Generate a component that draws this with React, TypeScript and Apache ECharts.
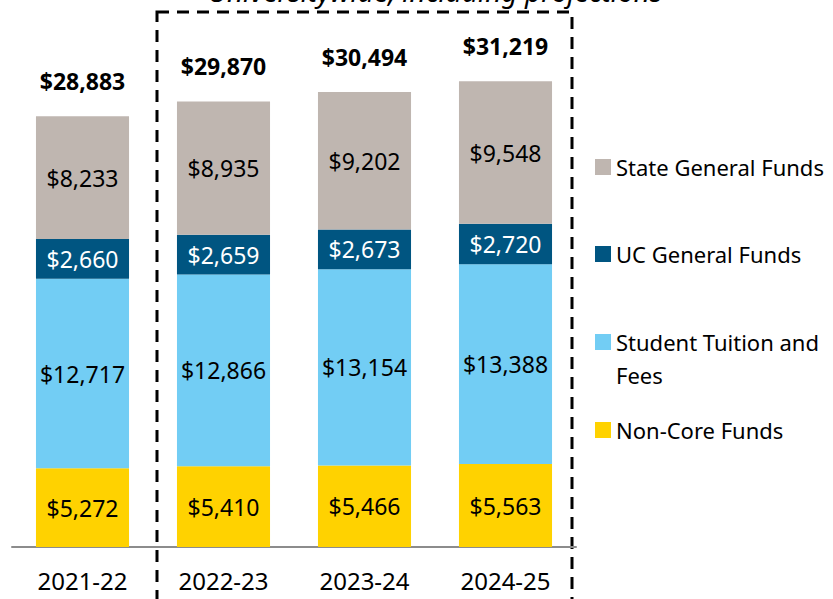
import React, { useEffect, useRef } from "react";
import * as echarts from "echarts";

const categories = ["2021-22", "2022-23", "2023-24", "2024-25"];
const nonCore = [5272, 5410, 5466, 5563];
const tuition = [12717, 12866, 13154, 13388];
const ucGeneral = [2660, 2659, 2673, 2720];
const stateGeneral = [8233, 8935, 9202, 9548];
const totals = [28883, 29870, 30494, 31219];

const seriesNames = ["Non-Core Funds", "Student Tuition and Fees", "UC General Funds", "State General Funds"];
const colors = ["#FFD200", "#72CDF4", "#005581", "#BFB6B0"];
const labelColors = ["#000", "#000", "#fff", "#000"];
const FONT = "'Noto Sans', sans-serif";

const fmt = (v: number) => "$" + v.toLocaleString("en-US");

export default function App() {
  const ref = useRef<HTMLDivElement>(null);
  useEffect(() => {
    const chart = echarts.init(ref.current!, undefined, { renderer: "svg" });
    const dataSets = [nonCore, tuition, ucGeneral, stateGeneral];
    const series: any[] = dataSets.map((d, i) => ({
      name: seriesNames[i],
      type: "bar",
      stack: "total",
      barCategoryGap: "34%",
      data: d,
      itemStyle: { color: colors[i] },
      label: {
        show: true,
        position: "inside",
        formatter: (p: any) => fmt(p.value),
        color: labelColors[i],
        fontSize: 23,
        fontFamily: FONT,
      },
    }));
    series.push({
      name: "Total",
      type: "bar",
      stack: "total",
      data: totals.map(() => 0),
      itemStyle: { color: "transparent" },
      label: {
        show: true,
        position: "top",
        distance: 24,
        formatter: (p: any) => fmt(totals[p.dataIndex]),
        color: "#000",
        fontSize: 23,
        fontWeight: "bold",
        fontFamily: FONT,
      },
    });
    const legendCenters = [168, 255, 343, 431];
    const legendOrder = [3, 2, 1, 0];
    const legends = legendOrder.map((si, k) => ({
      show: true,
      orient: "vertical",
      left: 595,
      top: legendCenters[k] - 12,
      padding: 0,
      icon: "rect",
      itemWidth: 16,
      itemHeight: 16,
      data: [seriesNames[si]],
      formatter: si === 1 ? () => "Student Tuition and" : undefined,
      textStyle: {
        fontSize: 22,
        fontFamily: FONT,
        color: "#000",
      },
    }));
    chart.setOption({
      animation: false,
      grid: { left: 12, right: 257, top: 10, bottom: 52, containLabel: false },
      legend: legends,
      xAxis: {
        type: "category",
        data: categories,
        axisLine: { lineStyle: { color: "#8c8c8c", width: 2 } },
        axisTick: { show: false },
        axisLabel: { color: "#000", fontSize: 24, fontFamily: FONT, margin: 21 },
      },
      yAxis: {
        type: "value",
        min: 0,
        max: 36000,
        show: false,
        splitLine: { show: false },
      },
      series,
      graphic: [
        {
          type: "rect",
          shape: { x: 157, y: 12, width: 415, height: 620 },
          style: { fill: "none", stroke: "#000", lineWidth: 3, lineDash: [12, 8] },
          silent: true,
        },
        {
          type: "text",
          x: 435,
          y: -9,
          style: {
            text: "Universitywide, including projections",
            fontSize: 28,
            fontStyle: "italic",
            fontFamily: FONT,
            fill: "#000",
            align: "center",
            verticalAlign: "middle",
          },
        },
        {
          type: "text",
          x: 616,
          y: 375,
          style: {
            text: "Fees",
            fontSize: 22,
            fontFamily: FONT,
            fill: "#000",
            align: "left",
            verticalAlign: "middle",
          },
        },
      ],
    });
    return () => chart.dispose();
  }, []);
  return <div ref={ref} style={{ width: 833, height: 599, position: "absolute", left: 0, top: 0 }} />;
}
